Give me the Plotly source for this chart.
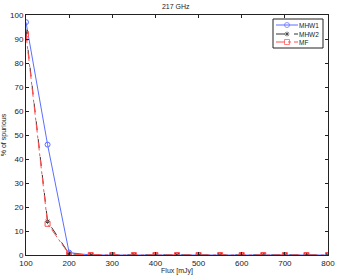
import plotly.graph_objects as go

flux = [100, 150, 200, 250, 300, 350, 400, 450, 500, 550, 600, 650, 700, 750, 800]
mhw1 = [97, 46, 1, 0, 0, 0, 0, 0, 0, 0, 0, 0, 0, 0, 0]
mhw2 = [93, 14, 0.5, 0, 0, 0, 0, 0, 0, 0, 0, 0, 0, 0, 0]
mf = [92, 13, 0.3, 0, 0, 0, 0, 0, 0, 0, 0, 0, 0, 0, 0]
names = ["MHW1", "MHW2", "MF"]

W, H = 338, 275
L, R, T, B = 26, 10, 15, 20
colors = ["#5c6eff", "#333333", "#ff5050"]
dashes = ["solid", "dash", "dashdot"]
symbols = ["circle-open", "asterisk-open", "square-open"]
sizes = [5, 4, 5]

fig = go.Figure()
for ys, nm, c, d, s, sz in zip([mhw1, mhw2, mf], names, colors, dashes, symbols, sizes):
    fig.add_trace(go.Scatter(x=flux, y=ys, name=nm, mode="lines+markers", showlegend=False,
                             line=dict(color=c, width=1, dash=d),
                             marker=dict(symbol=s, size=sz, color=c, line=dict(width=1))))

# custom compact legend on an overlay axis measured in pixels
rows = [25, 34, 42]
for nm, c, d, s, sz, yy in zip(names, colors, dashes, symbols, sizes, rows):
    fig.add_trace(go.Scatter(x=[276, 287, 298], y=[yy, yy, yy], xaxis="x2", yaxis="y2",
                             mode="lines+markers", showlegend=False, hoverinfo="skip",
                             cliponaxis=False,
                             line=dict(color=c, width=1, dash=d),
                             marker=dict(symbol=s, size=[0, sz, 0], color=c, line=dict(width=1))))
    fig.add_annotation(x=298, y=yy, xref="x2", yref="y2", text=nm, showarrow=False,
                       xanchor="left", yanchor="middle", borderpad=0,
                       font=dict(size=6.5, family="Liberation Sans", color="#222"))
fig.add_shape(type="rect", xref="x2", yref="y2", x0=273, x1=323, y0=19, y1=48,
              line=dict(color="#222", width=1), fillcolor="rgba(0,0,0,0)", layer="above")

axis_common = dict(showgrid=False, zeroline=False, showline=True, linecolor="#222",
                   linewidth=1, mirror="ticks", ticks="inside", ticklen=3, automargin=False,
                   tickcolor="#222", tickfont=dict(size=8, family="Liberation Sans", color="#222"))
fig.update_xaxes(range=[100, 800], dtick=100, title=dict(text="Flux [mJy]", standoff=0,
                 font=dict(size=7, family="Liberation Sans", color="#222")), **axis_common)
fig.update_yaxes(range=[0, 100], dtick=10, title=dict(text="% of spurious", standoff=3,
                 font=dict(size=7, family="Liberation Sans", color="#222")), **axis_common)

fig.update_layout(
    width=W, height=H,
    margin=dict(l=L, r=R, t=T, b=B),
    paper_bgcolor="white", plot_bgcolor="white",
    xaxis2=dict(overlaying="x", range=[L, W - R], visible=False, fixedrange=True),
    yaxis2=dict(overlaying="y", range=[H - B, T], visible=False, fixedrange=True),
    title=dict(text="217 GHz", x=0.52, xanchor="center", y=0.985, yanchor="top",
               font=dict(size=7, family="Liberation Sans", color="#222")),
    showlegend=False,
)
fig.write_html("out.html", config={"displayModeBar": False},
               post_script="document.body.style.margin='0';")
